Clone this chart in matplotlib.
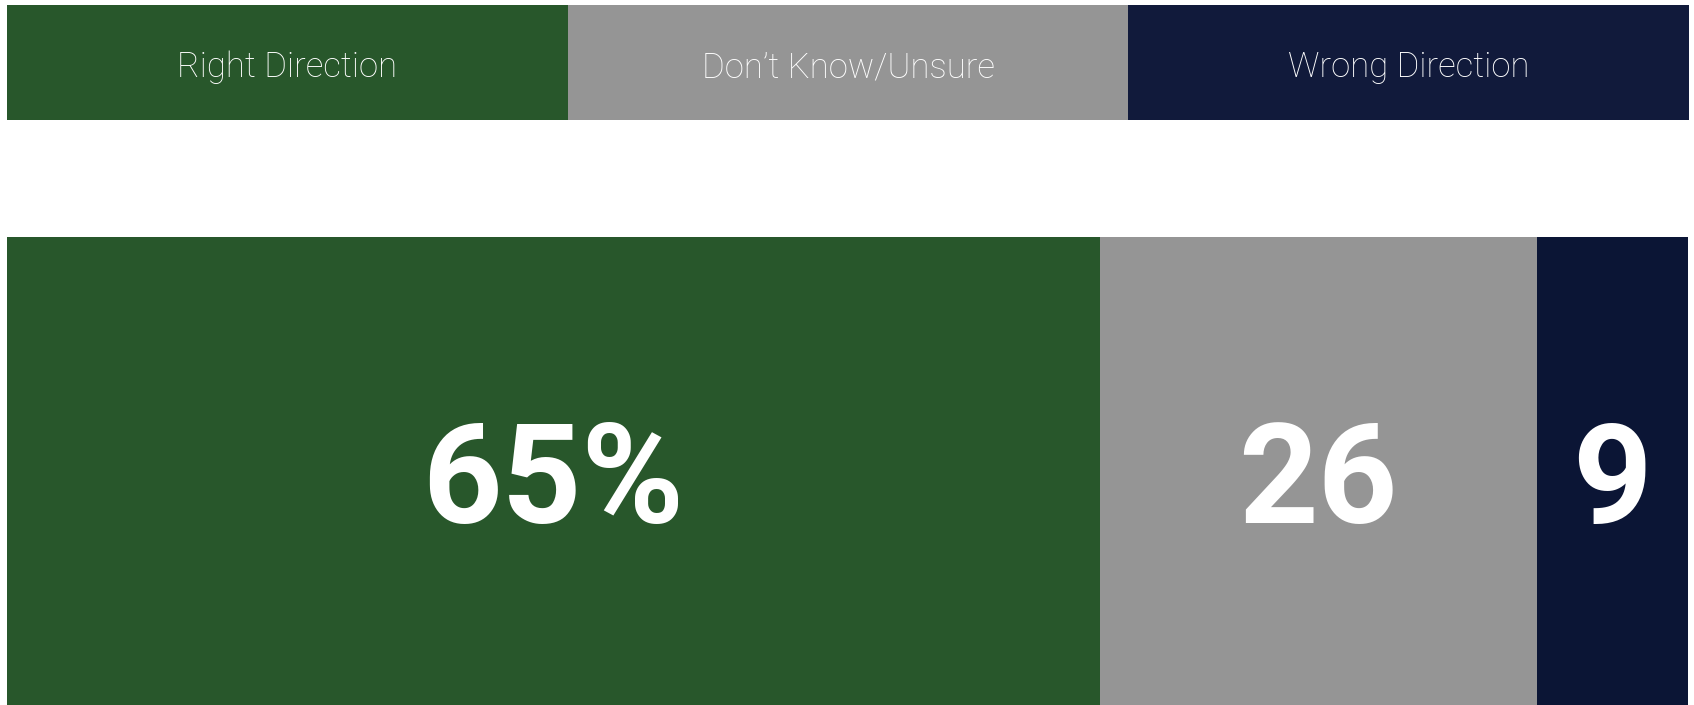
import matplotlib.pyplot as plt

# data
categories = ["Right Direction", "Don\u2019t Know/Unsure", "Wrong Direction"]
values = [65, 26, 9]
value_labels = ["65%", "26", "9"]
legend_colors = ["#28572b", "#959595", "#111a3b"]
bar_colors = ["#28572b", "#959595", "#0b1535"]

W, H = 1694, 705
fig = plt.figure(figsize=(W / 100, H / 100), dpi=100)
fig.patch.set_facecolor("white")

# legend strip on top: three equal boxes
left_px, right_px = 7, 1689
lg = fig.add_axes([left_px / W, (H - 119.5) / H, (right_px - left_px) / W, 114.5 / H])
lg.barh([0] * 3, [1] * 3, left=range(3), height=1, color=legend_colors, edgecolor="none")
for i, name in enumerate(categories):
    lg.text(i + 0.5, -0.13, name, ha="center", va="baseline", color="white",
            fontsize=25, family="Roboto", fontweight="light")
lg.set_xlim(0, 3)
lg.set_ylim(-0.5, 0.5)
lg.axis("off")

# stacked bar
ax = fig.add_axes([left_px / W, 0, (1688 - left_px) / W, (H - 237) / H])
lefts = [sum(values[:i]) for i in range(len(values))]
ax.barh([0] * 3, values, left=lefts, height=1, color=bar_colors, edgecolor="none")
for l, v, lab in zip(lefts, values, value_labels):
    ax.text(l + v / 2, -0.112, lab, ha="center", va="baseline", color="white",
            fontsize=100, family="Roboto", fontweight="bold")
ax.set_xlim(0, 100)
ax.set_ylim(-0.5, 0.5)
ax.axis("off")

fig.savefig("out.png", dpi=100)
